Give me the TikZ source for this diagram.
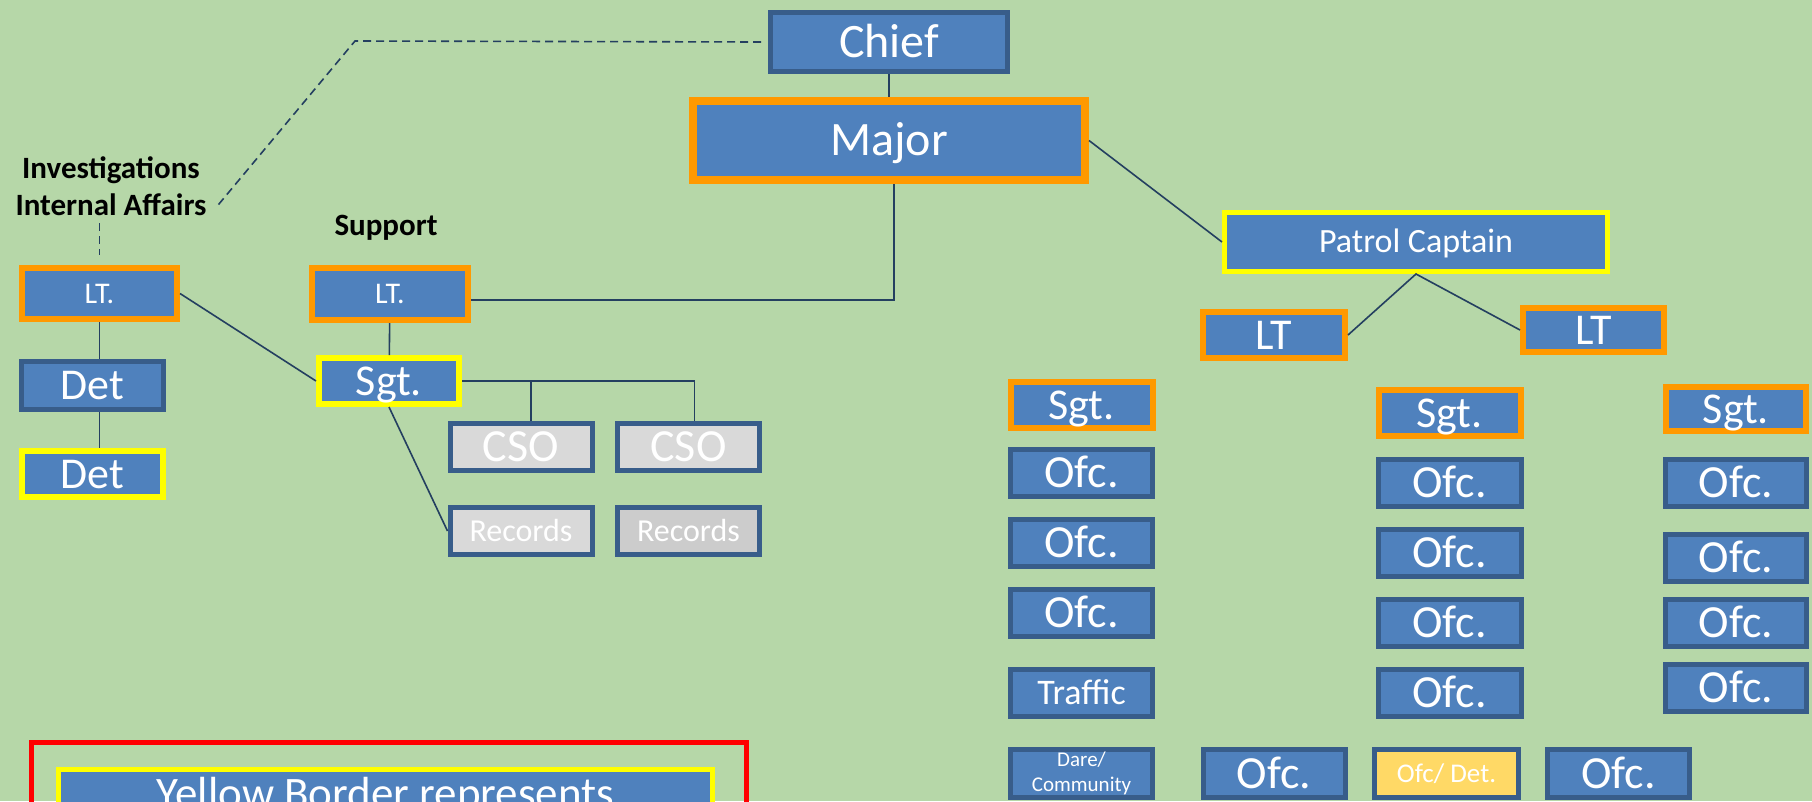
\documentclass[tikz,border=0pt]{standalone}
\usepackage{fontspec}
\setmainfont{Carlito}
\definecolor{bggreen}{HTML}{B6D7A8}
\definecolor{boxblue}{HTML}{4F81BD}
\definecolor{boxline}{HTML}{385D8A}
\definecolor{rankorange}{HTML}{FF9900}
\definecolor{rankyellow}{HTML}{FFFF00}
\definecolor{civgrey}{HTML}{D9D9D9}
\definecolor{civgreydark}{HTML}{CCCCCC}
\definecolor{detgold}{HTML}{FFD966}
\definecolor{linkblue}{HTML}{243F60}
\tikzset{
    fs/.style={font=\fontsize{#1}{#1}\selectfont,text height=\dimexpr#1pt*161/250\relax,text depth=0pt},
    org/.style={
        unit/.append style={draw=boxline,fill=boxblue,text=white,line width=5pt,inner sep=0pt,minimum width=142pt,minimum height=47pt,fs=46},
        cmd/.append style={unit,draw=rankorange,line width=6pt},
        sel/.append style={unit,draw=rankyellow,line width=6pt},
        civ/.append style={unit,fill=civgrey},
        heading/.append style={font=\bfseries\fontsize{31}{37}\selectfont,align=center,inner sep=0pt},
        link/.append style={draw=linkblue,line width=1.6pt},
        dotlink/.append style={link,dash pattern=on 8pt off 5pt}
    }
}

\begin{document}
\begin{tikzpicture}[org,x=1pt,y=-1pt]
    \useasboundingbox (0,0) rectangle (1812,801);
    \clip (0,0) rectangle (1812,801);
    \fill[bggreen] (0,0) rectangle (1812,801);

    \node[unit,fs=48,minimum width=237pt,minimum height=59pt] (chief) at (889,42) {Chief};
    \node[cmd,fs=48,line width=8pt,minimum width=392pt,minimum height=79pt] (major) at (889,140.5) {Major};
    \node[sel,fs=34,line width=5pt,minimum width=383pt,minimum height=59pt] (capt) at (1416,242) {Patrol Captain};
    \coordinate (bend) at (355,41);

    \node[heading,anchor=base] (inv) at (111,215) {Investigations\\Internal Affairs};
    \node[heading,anchor=base] (support) at (386,235) {Support};

    \node[cmd,fs=30,minimum width=155pt,minimum height=51pt] (ltinv) at (99.5,293.5) {LT.};
    \node[unit,fs=44,minimum height=48pt] (det1) at (92.5,385.5) {Det};
    \node[sel,fs=44,minimum width=141pt,minimum height=46pt] (det2) at (92.5,474) {Det};

    \node[cmd,fs=30,minimum width=156pt,minimum height=52pt] (ltsup) at (390,294) {LT.};
    \node[sel,fs=44,minimum width=140pt,minimum height=46pt] (sgt) at (389,381) {Sgt.};
    \node[civ] (cso1) at (521,447) {CSO};
    \node[civ] (cso2) at (688.5,447) {CSO};
    \node[civ,fs=32] (rec1) at (521,531) {Records};
    \node[civ,fs=32,fill=civgreydark] (rec2) at (688.5,531) {Records};

    \node[cmd,fs=44,minimum height=46pt] (ltp1) at (1274,335) {LT};
    \node[cmd,fs=44,minimum width=141pt,minimum height=44pt] (ltp2) at (1593.5,330) {LT};

    \node[cmd,fs=44,minimum height=46pt] (sgta) at (1081.5,405) {Sgt.};
    \node[unit] (ofca1) at (1081.5,473) {Ofc.};
    \node[unit] (ofca2) at (1081.5,543) {Ofc.};
    \node[unit] (ofca3) at (1081.5,613) {Ofc.};
    \node[unit,fs=36] (traffic) at (1081.5,693) {Traffic};
    \node[unit,font=\fontsize{21}{25}\selectfont,align=center,text height=,text depth=,minimum height=48pt] (dare) at (1081.5,773.5) {Dare/\\Community};

    \node[cmd,fs=44,minimum width=142pt,minimum height=46pt] (sgtb) at (1449.5,413) {Sgt.};
    \node[unit,minimum width=143pt] (ofcb1) at (1449.5,483) {Ofc.};
    \node[unit,minimum width=143pt] (ofcb2) at (1449.5,553) {Ofc.};
    \node[unit,minimum width=143pt] (ofcb3) at (1449.5,623) {Ofc.};
    \node[unit,minimum width=143pt] (ofcb4) at (1449.5,693) {Ofc.};

    \node[cmd,fs=44,minimum width=140pt,minimum height=44pt] (sgtc) at (1736,409) {Sgt.};
    \node[unit,minimum width=141pt] (ofcc1) at (1736,483) {Ofc.};
    \node[unit,minimum width=141pt] (ofcc2) at (1736,558) {Ofc.};
    \node[unit,minimum width=141pt] (ofcc3) at (1736,623) {Ofc.};
    \node[unit,minimum width=141pt] (ofcc4) at (1736,688) {Ofc.};

    \node[unit,minimum height=48pt] (ofcd1) at (1274,773.5) {Ofc.};
    \node[unit,fs=27,fill=detgold,minimum width=144pt,minimum height=48pt] (ofcdet) at (1446.5,773.5) {Ofc/ Det.};
    \node[unit,minimum height=48pt] (ofcd2) at (1618.5,773.5) {Ofc.};

    \node[draw=red,line width=5pt,inner sep=0pt,minimum width=715pt,minimum height=150pt,anchor=north] (legend) at (389,740) {};
    \node[sel,fs=45,line width=5pt,anchor=north,minimum width=654pt,inner ysep=10.5pt,text depth=40pt] (note) at (385.5,767) {Yellow Border represents};

    \draw[link] (chief) -- (major);
    \draw[link] ([xshift=5pt]major.south) |- ([yshift=-6pt]ltsup.east);
    \draw[link] (major.east) -- (capt.west);
    \draw[link] (ltp1.east) -- (capt.south) -- (ltp2.west);
    \draw[link] (ltinv.south) -- (ltinv.south |- det1.north);
    \draw[link] (ltinv.south |- det1.south) -- (ltinv.south |- det2.north);
    \draw[link] (ltinv.east) -- (sgt.west);
    \draw[link] (ltsup) -- (sgt);
    \draw[link] (sgt.east) -| ([xshift=6pt]cso2.north);
    \draw[link] ([xshift=10pt]cso1.north) -- ([xshift=10pt]cso1.north |- sgt.east);
    \draw[link] (sgt.south) -- (rec1.west);
    \draw[dotlink] ([xshift=-7pt]chief.west) -- (bend) -- ([shift={(10pt,-21pt)}]inv.east);
    \draw[dotlink] ([yshift=-8pt]inv.south -| ltinv.north) -- ([yshift=10pt]ltinv.north);
\end{tikzpicture}
\end{document}
